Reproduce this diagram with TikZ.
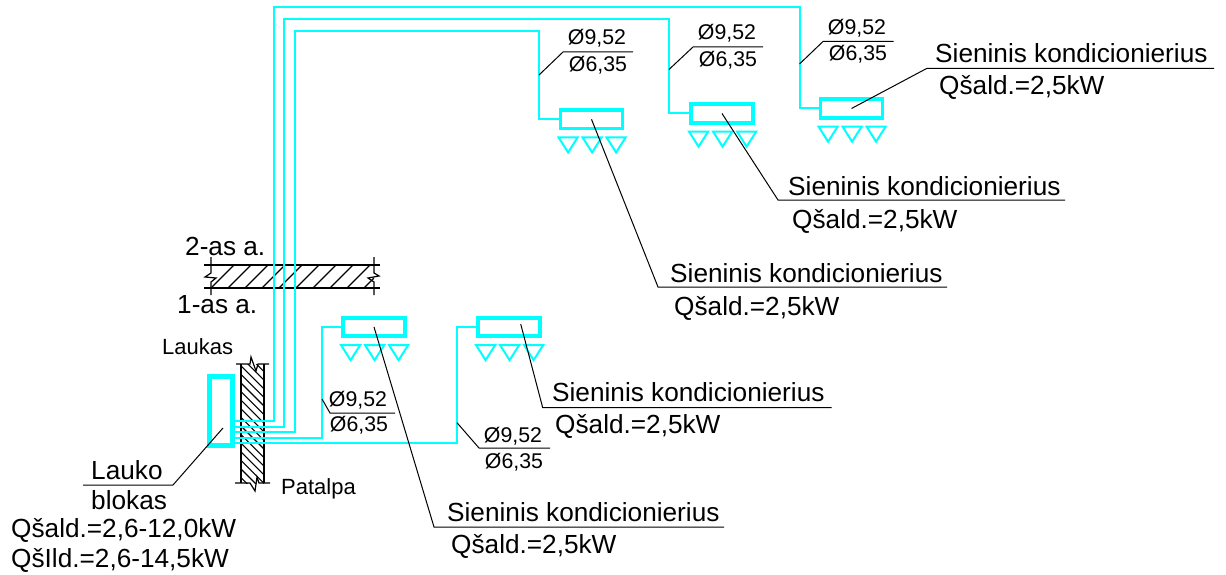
\documentclass[tikz,border=0pt]{standalone}
\usepackage{fontspec}
\setmainfont{Liberation Sans}

\definecolor{pipecyan}{RGB}{0,255,255}

\tikzset{
  pipe/.style={draw=pipecyan, line width=2pt},
  unitbox/.style={draw=pipecyan, line width=3.8pt, minimum width=62pt, minimum height=18.5pt, inner sep=0pt},
  outbox/.style={draw=pipecyan, line width=4.2pt, minimum width=23pt, minimum height=69pt, inner sep=0pt},
  vent/.style={draw=pipecyan, line width=2pt},
  leader/.style={draw=black, line width=1pt},
  wallline/.style={draw=black, line width=1.2pt},
  hatchline/.style={draw=black, line width=1.1pt},
  bigtext/.style={anchor=base west, inner sep=0pt, font=\fontsize{26.2}{27}\selectfont},
  dimtext/.style={inner sep=0pt, font=\fontsize{21.3}{22}\selectfont},
  smalltext/.style={anchor=base west, inner sep=0pt, font=\fontsize{22}{23}\selectfont}
}

\begin{document}
\begin{tikzpicture}[x=1pt, y=-1pt]
  \useasboundingbox (0, 0) rectangle (1226, 575);

  % floor slab
  \begin{scope}
    \clip (211, 265) rectangle (374, 288);
    \foreach \xx in {211, 228, ..., 364} {
      \draw[hatchline] (\xx, 288) -- ++(23, -23);
    }
  \end{scope}
  \draw[wallline] (204, 265) -- (380, 265);
  \draw[wallline] (204, 288) -- (380, 288);
  \draw[wallline] (211, 257) -- (211, 273) -- (205, 277) -- (216, 278) -- (211, 282) -- (211, 295);
  \draw[wallline] (374, 257) -- (374, 273) -- (379, 276) -- (368, 278) -- (374, 282) -- (374, 295);

  % outer wall
  \begin{scope}
    \clip (241, 364) rectangle (264, 483);
    \foreach \yy in {340, 348.6, ..., 490} {
      \draw[hatchline] (241, \yy) -- ++(23, 23);
    }
  \end{scope}
  \draw[wallline] (241, 364) -- (241, 483);
  \draw[wallline] (264, 364) -- (264, 483);
  \draw[wallline] (236, 364) -- (250, 364) -- (251, 357) -- (256, 371) -- (258, 364) -- (269, 364);
  \draw[wallline] (235, 483) -- (250, 483) -- (255, 491) -- (257, 477) -- (259, 483) -- (270, 483);

  % units
  \node[outbox] (outblock) at (221, 411) {};
  \node[unitbox] (unit1) at (591.5, 119.3) {};
  \node[unitbox] (unit2) at (722, 113.5) {};
  \node[unitbox] (unit3) at (851.5, 108.5) {};
  \node[unitbox] (unit4) at (374, 327) {};
  \node[unitbox] (unit5) at (509, 327) {};

  \foreach \uu in {unit1, unit2, unit3, unit4, unit5} {
    \foreach \dx in {0, 24, 48} {
      \draw[vent] ([shift={(\dx, 7)}]\uu.south west) -- ++(19, 0) -- ++(-9.5, 15) -- cycle;
    }
  }

  % pipes
  \coordinate (out1) at (outblock.east |- 0, 421);
  \coordinate (out2) at (outblock.east |- 0, 426.7);
  \coordinate (out3) at (outblock.east |- 0, 432.3);
  \coordinate (out4) at (outblock.east |- 0, 437.7);
  \coordinate (out5) at (outblock.east |- 0, 442.7);
  \draw[pipe] (out1) -- (274, 421) -- (274, 7) -- (799.5, 7) -- (799.5, 108.5) -- (unit3.west);
  \draw[pipe] (out2) -- (284, 426.7) -- (284, 18.7) -- (669, 18.7) -- (669, 113.5) -- (unit2.west);
  \draw[pipe] (out3) -- (295, 432.3) -- (295, 31) -- (539, 31) -- (539, 119.3) -- (unit1.west);
  \draw[pipe] (out4) -- (322, 437.7) -- (322, 327) -- (unit4.west);
  \draw[pipe] (out5) -- (457, 442.7) -- (457, 327) -- (unit5.west);

  % leaders
  \coordinate (bend1) at (658, 287);
  \coordinate (bend2) at (778, 200);
  \coordinate (bend3) at (927, 68.3);
  \coordinate (bend4) at (434, 527);
  \coordinate (bend5) at (542.7, 407.7);
  \coordinate (start5) at (520.7, 324);
  \coordinate (bendout) at (173, 485);
  \coordinate (startout) at (223, 428);
  \draw[leader] (unit1.center) -- (bend1) -- ++(289, 0);
  \draw[leader] (unit2.center) -- (bend2) -- ++(287, 0);
  \draw[leader] (unit3.center) -- (bend3) -- ++(287, 0);
  \draw[leader] (unit4.center) -- (bend4) -- ++(290, 0);
  \draw[leader] (start5) -- (bend5) -- ++(289, 0);
  \draw[leader] (startout) -- (bendout) -- ++(-90, 0);

  % dimension leaders
  \coordinate (dim1) at (539, 75);
  \coordinate (dim2) at (669, 69.5);
  \coordinate (dim3) at (799.5, 64);
  \coordinate (dim4) at (322, 399);
  \coordinate (dim5) at (457, 422.7);
  \draw[leader] (dim1) -- (563, 52) -- (633, 52);
  \draw[leader] (dim2) -- (693, 47) -- (763, 47);
  \draw[leader] (dim3) -- (823, 41.5) -- (893.5, 41.5);
  \draw[leader] (dim4) -- (330, 413) -- (395, 413);
  \draw[leader] (dim5) -- (479, 448) -- (550, 448);

  % pipe sizes
  \node[dimtext] (d1a) at (597, 38) {Ø9,52};
  \node[dimtext] (d1b) at (598, 65) {Ø6,35};
  \node[dimtext] (d2a) at (727, 33) {Ø9,52};
  \node[dimtext] (d2b) at (728, 60) {Ø6,35};
  \node[dimtext] (d3a) at (857, 28) {Ø9,52};
  \node[dimtext] (d3b) at (858, 54) {Ø6,35};
  \node[dimtext] (d4a) at (358, 400.5) {Ø9,52};
  \node[dimtext] (d4b) at (359, 425.5) {Ø6,35};
  \node[dimtext] (d5a) at (513, 436.5) {Ø9,52};
  \node[dimtext] (d5b) at (514, 462) {Ø6,35};

  % unit labels
  \node[bigtext] (name1) at (670, 282) {Sieninis kondicionierius};
  \node[bigtext] (cap1) at (674, 315) {Qšald.=2,5kW};
  \node[bigtext] (name2) at (788, 195) {Sieninis kondicionierius};
  \node[bigtext] (cap2) at (792, 228) {Qšald.=2,5kW};
  \node[bigtext] (name3) at (935, 63) {Sieninis kondicionierius};
  \node[bigtext] (cap3) at (939, 95) {Qšald.=2,5kW};
  \node[bigtext] (name4) at (447, 521) {Sieninis kondicionierius};
  \node[bigtext] (cap4) at (451, 553) {Qšald.=2,5kW};
  \node[bigtext] (name5) at (552, 401) {Sieninis kondicionierius};
  \node[bigtext] (cap5) at (555, 433) {Qšald.=2,5kW};

  % other labels
  \node[bigtext] (floor2) at (185, 255) {2-as a.};
  \node[bigtext] (floor1) at (177, 313) {1-as a.};
  \node[smalltext] (outside) at (162, 354) {Laukas};
  \node[smalltext] (inside) at (281, 494) {Patalpa};
  \node[bigtext] (lauko) at (91, 479) {Lauko};
  \node[bigtext] (blokas) at (91, 509) {blokas};
  \node[bigtext] (outcool) at (11, 537) {Qšald.=2,6-12,0kW};
  \node[bigtext] (outheat) at (11, 567) {QšIld.=2,6-14,5kW};
\end{tikzpicture}
\end{document}
